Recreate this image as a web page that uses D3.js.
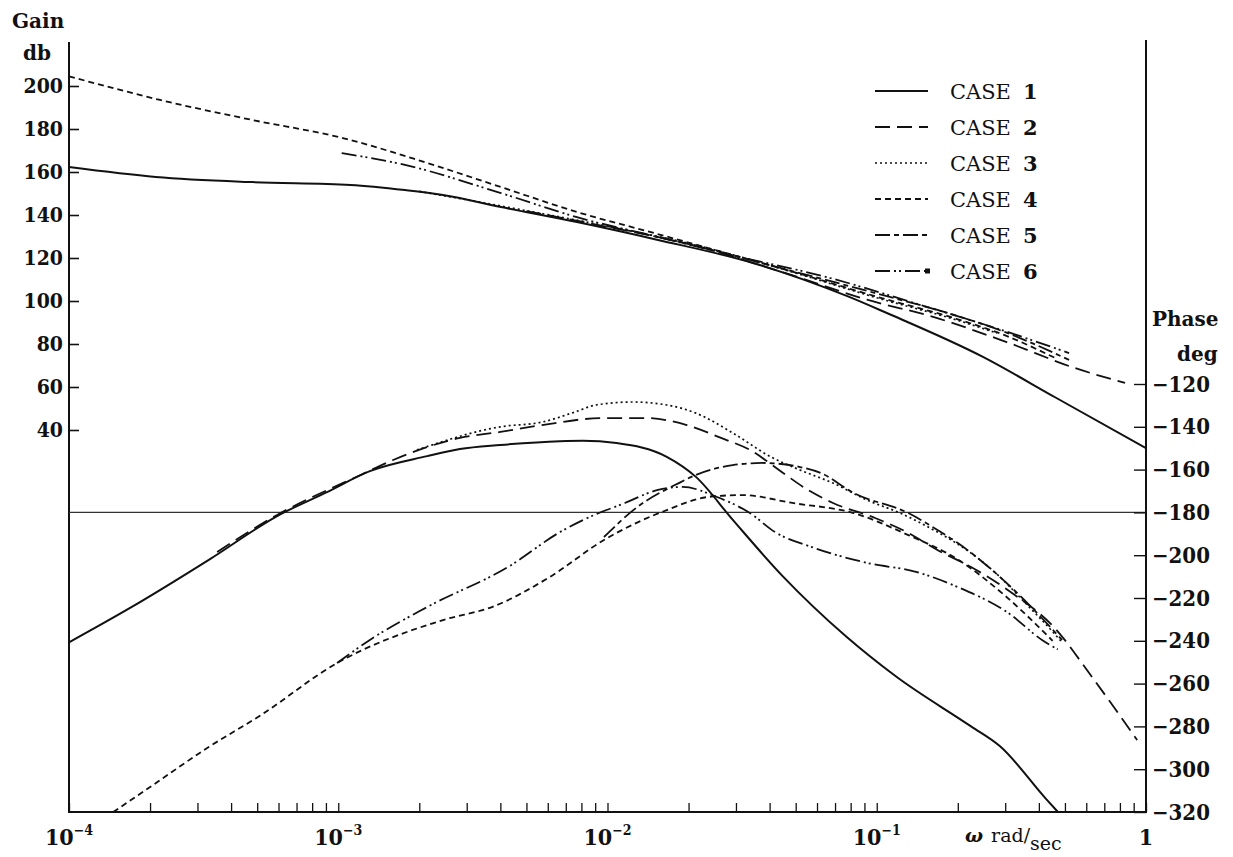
<!DOCTYPE html>
<html><head><meta charset="utf-8">
<script src="https://cdn.jsdelivr.net/npm/d3@7"></script>
<style>
body{margin:0;background:#fff;}
svg{display:block;background:#fff;}
text{fill:#111;font-family:"DejaVu Serif Condensed","DejaVu Serif","Liberation Serif",serif;}
text.wide{font-family:"DejaVu Serif","Liberation Serif",serif;}
</style></head><body>
<svg id="c" width="1233" height="857"></svg>
<script>
// ---------- data ----------
const caseNames = ["CASE 1","CASE 2","CASE 3","CASE 4","CASE 5","CASE 6"];
const gainTicks = [40,60,80,100,120,140,160,180,200];
const phaseTicks = [-120,-140,-160,-180,-200,-220,-240,-260,-280,-300,-320];
const decadeTicks = [1e-4,1e-3,1e-2,1e-1,1];
const decadeLabels = ["−4","−3","−2","−1",""];

// gain (dB) curves
const gain1W = [1e-4,2.1e-4,4.79e-4,1.11e-3,1.77e-3,2.45e-3,4.02e-3,7.7e-3,1.54e-2,3.47e-2,7.9e-2,0.109,0.248,0.463,1];
const gain1 = [162.3,157.7,155.3,154,151.6,149.3,143.7,136.7,128.4,117.7,101.9,94.4,74,55,31.6];
const gain2W = [5e-3,1e-2,2e-2,4.84e-2,9.27e-2,0.162,0.302,0.545,0.836];
const gain2 = [141.8,134.5,126.5,112,100.5,92.6,81,68.8,61.9];
const gain3W = [2e-3,5e-3,1e-2,2e-2,5e-2,0.1,0.2,0.28];
const gain3 = [151,142,134.8,126.8,113,101.5,91,85];
const gain4W = [1e-4,2.18e-4,4.79e-4,1.04e-3,2.08e-3,4.02e-3,7.7e-3,1.49e-2,3e-2,5e-2,0.1,0.2,0.3,0.46];
const gain4 = [204.5,193.5,184.2,175.8,164.7,153,141.4,131.6,121,113.2,102,91.5,84,73.5];
const gain5W = [1e-2,2e-2,5e-2,0.1,0.2,0.3,0.518];
const gain5 = [134.8,126.5,113.5,103.5,93,85.5,72.6];
const gain6W = [1.03e-3,1.77e-3,4.02e-3,7.7e-3,1.54e-2,2.75e-2,6.7e-2,0.147,0.291,0.518];
const gain6 = [168.8,163.3,150.2,139,129.8,122,110.7,98,86.5,75.8];

// phase (deg) curves
const phase1W = [1e-4,1.73e-4,3.34e-4,5.93e-4,9.08e-4,1.31e-3,2.14e-3,2.83e-3,4.0e-3,6.66e-3,8.1e-3,1.08e-2,1.66e-2,2.13e-2,2.92e-2,4.49e-2,7.7e-2,0.118,0.224,0.287,0.426,0.471];
const phase1 = [-240.7,-223.8,-201.8,-181.7,-170.5,-160.7,-153.7,-150.4,-148.5,-146.7,-146.5,-147.6,-154,-163.4,-183.5,-210,-238,-256.7,-280,-289.3,-314,-320];
const phase2W = [3.55e-4,5.93e-4,1.21e-3,1.6e-3,2.83e-3,4.0e-3,5.71e-3,9.7e-3,1.39e-2,1.97e-2,2.64e-2,3.38e-2,4.49e-2,5.55e-2,6.88e-2,9.86e-2,0.131,0.168,0.224,0.318,0.455,0.63,0.927];
const phase2 = [-198.5,-181.2,-162.5,-155.5,-145.2,-142.4,-139.2,-135.9,-135.9,-139.2,-145.2,-150.8,-161.6,-169.5,-175.6,-182.6,-189.6,-197.6,-205.5,-217.7,-233.6,-256.9,-286.4];
const phase3W = [1.96e-3,4e-3,5.71e-3,7.57e-3,9.06e-3,1.24e-2,1.66e-2,2.13e-2,2.92e-2,4.05e-2,5.19e-2,6.88e-2,9.2e-2,0.122,0.168,0.216,0.287,0.356,0.455,0.49];
const phase3 = [-150.8,-140,-137.8,-133.1,-129.8,-128.4,-129.8,-133.6,-142.9,-154.1,-160.2,-166.3,-174.2,-180.3,-189.2,-197.6,-210.2,-222.3,-236.4,-241];
const phase4W = [1.46e-4,2.05e-4,3.26e-4,5.12e-4,9.9e-4,2.45e-3,3.76e-3,6.1e-3,9.7e-3,1.66e-2,2.36e-2,3.16e-2,4.86e-2,8.2e-2,0.131,0.2,0.3,0.45];
const phase4 = [-320,-307.4,-290.1,-275,-250.4,-230.3,-224,-210.2,-192.9,-178.9,-172.8,-171.9,-175.6,-180.3,-190.6,-202,-219,-240];
const phase5W = [9.7e-3,1.29e-2,1.84e-2,2.13e-2,2.92e-2,3.75e-2,5.19e-2,6.2e-2,8.2e-2,0.131,0.168,0.2,0.268,0.344,0.488];
const phase5 = [-191.5,-177.5,-166.3,-162.5,-157.9,-156.9,-158.8,-161.6,-170.9,-180.3,-188.2,-194.3,-206.9,-219.5,-239.6];
const phase6W = [9.9e-4,1.31e-3,2.14e-3,4.34e-3,6.66e-3,8.1e-3,1.16e-2,1.54e-2,1.9e-2,2.55e-2,3.38e-2,4.19e-2,5.74e-2,9.2e-2,0.141,0.2,0.308,0.411,0.47];
const phase6 = [-250.4,-239.6,-224.2,-205,-189.2,-183.6,-175.6,-169.5,-168.1,-172.8,-180.3,-189.2,-196.2,-203.6,-207.9,-214.9,-227,-239.6,-244];

// ---------- drawing ----------
const svg = d3.select("#c");
const x = d3.scaleLog().domain([1e-4,1]).range([69,1146]);
const yG = d3.scaleLinear().domain([40,200]).range([430,86]);
const yP = d3.scaleLinear().domain([-320,-120]).range([812,384]);

const styles = [
  {dash:null, w:2.0},
  {dash:"15,7", w:1.8},
  {dash:"2,3", w:1.7},
  {dash:"6,4", w:1.8},
  {dash:"15,4,5,4", w:1.8},
  {dash:"15,4,2,3,2,4", w:1.8}
];
const gains = [[gain1W,gain1],[gain2W,gain2],[gain3W,gain3],[gain4W,gain4],[gain5W,gain5],[gain6W,gain6]];
const phases = [[phase1W,phase1],[phase2W,phase2],[phase3W,phase3],[phase4W,phase4],[phase5W,phase5],[phase6W,phase6]];

// frame lines
const frame = svg.append("g").attr("stroke","#111").attr("stroke-width",2).attr("fill","none");
frame.append("line").attr("x1",x(1e-4)).attr("x2",x(1e-4)).attr("y1",42).attr("y2",yP(-320)+1);
frame.append("line").attr("x1",x(1)).attr("x2",x(1)).attr("y1",40).attr("y2",yP(-320)+1);
frame.append("line").attr("x1",x(1e-4)).attr("x2",x(1)).attr("y1",yP(-320)).attr("y2",yP(-320));

// -180 reference line
svg.append("line").attr("x1",x(1e-4)).attr("x2",x(1)).attr("y1",yP(-180)).attr("y2",yP(-180))
  .attr("stroke","#333").attr("stroke-width",1.2);

// gain axis (left)
const gAx = svg.append("g").attr("transform",`translate(${x(1e-4)},0)`)
  .call(d3.axisLeft(yG).tickValues(gainTicks).tickSizeInner(-10).tickSizeOuter(0).tickPadding(6).tickFormat(d3.format("d")));
gAx.select(".domain").remove();
gAx.selectAll("line").attr("stroke","#111").attr("stroke-width",1.6);
gAx.selectAll("text").attr("font-size",21).attr("font-weight","bold").attr("fill","#111");

// phase axis (right)
const pAx = svg.append("g").attr("transform",`translate(${x(1)},0)`)
  .call(d3.axisRight(yP).tickValues(phaseTicks).tickSizeInner(-12).tickSizeOuter(0).tickPadding(6).tickFormat(d3.format("d")));
pAx.select(".domain").remove();
pAx.selectAll("line").attr("stroke","#111").attr("stroke-width",1.4);
pAx.selectAll("text").attr("font-size",22).attr("font-weight","bold").attr("fill","#111");

// frequency axis (bottom)
const minor = [];
for (let e=-4; e<0; e++) for (let m=1; m<10; m++) minor.push(m*Math.pow(10,e));
minor.push(1);
const xAx = svg.append("g").attr("transform",`translate(0,${yP(-320)})`)
  .call(d3.axisBottom(x).tickValues(minor).tickSizeInner(-9).tickSizeOuter(0).tickFormat(""));
xAx.select(".domain").remove();
xAx.selectAll("line").attr("stroke","#111").attr("stroke-width",1.3);

const xl = svg.append("g");
decadeTicks.forEach((v,i)=>{
  const t = xl.append("text").attr("x",x(v)).attr("y",845).attr("text-anchor","middle")
    .attr("font-size",23).attr("font-weight","bold");
  if (decadeLabels[i]==="") { t.text("1"); }
  else {
    t.append("tspan").text("10");
    t.append("tspan").attr("dy",-10).attr("font-size",14).text(decadeLabels[i]);
  }
});

// axis titles
svg.append("text").attr("class","wide").attr("x",12).attr("y",28).attr("font-size",20).attr("font-weight","bold").text("Gain");
svg.append("text").attr("class","wide").attr("x",23).attr("y",60).attr("font-size",20).attr("font-weight","bold").text("db");
svg.append("text").attr("class","wide").attr("x",1152).attr("y",326).attr("font-size",20).attr("font-weight","bold").text("Phase");
svg.append("text").attr("class","wide").attr("x",1177).attr("y",361).attr("font-size",20).attr("font-weight","bold").text("deg");
const wl = svg.append("text").attr("class","wide").attr("x",965).attr("y",842).attr("font-size",19);
wl.append("tspan").attr("font-style","italic").attr("font-weight","bold").text("ω");
wl.append("tspan").attr("dx",8).text("rad/");
wl.append("tspan").attr("dy",8).text("sec");

// curves
const lineG = d3.line().x(d=>x(d[0])).y(d=>yG(d[1])).curve(d3.curveMonotoneX);
const lineP = d3.line().x(d=>x(d[0])).y(d=>yP(d[1])).curve(d3.curveMonotoneX);
const curves = svg.append("g").attr("fill","none").attr("stroke","#111");
gains.forEach((s,i)=>{
  curves.append("path").attr("d",lineG(d3.zip(s[0],s[1])))
    .attr("stroke-width",styles[i].w).attr("stroke-dasharray",styles[i].dash);
});
phases.forEach((s,i)=>{
  curves.append("path").attr("d",lineP(d3.zip(s[0],s[1])))
    .attr("stroke-width",styles[i].w).attr("stroke-dasharray",styles[i].dash);
});

// legend
const lg = svg.append("g");
caseNames.forEach((n,i)=>{
  const yy = 91 + i*36;
  lg.append("line").attr("x1",875).attr("x2",928).attr("y1",yy).attr("y2",yy)
    .attr("stroke","#111").attr("stroke-width",styles[i].w).attr("stroke-dasharray",styles[i].dash);
  if (i===5) lg.append("rect").attr("x",925).attr("y",yy-2.5).attr("width",5).attr("height",5).attr("fill","#111");
  const parts = n.split(" ");
  const t = lg.append("text").attr("class","wide").attr("x",950).attr("y",yy+8).attr("font-size",21);
  t.append("tspan").text(parts[0]);
  t.append("tspan").attr("dx",12).attr("font-weight","bold").text(parts[1]);
});
</script>
</body></html>
